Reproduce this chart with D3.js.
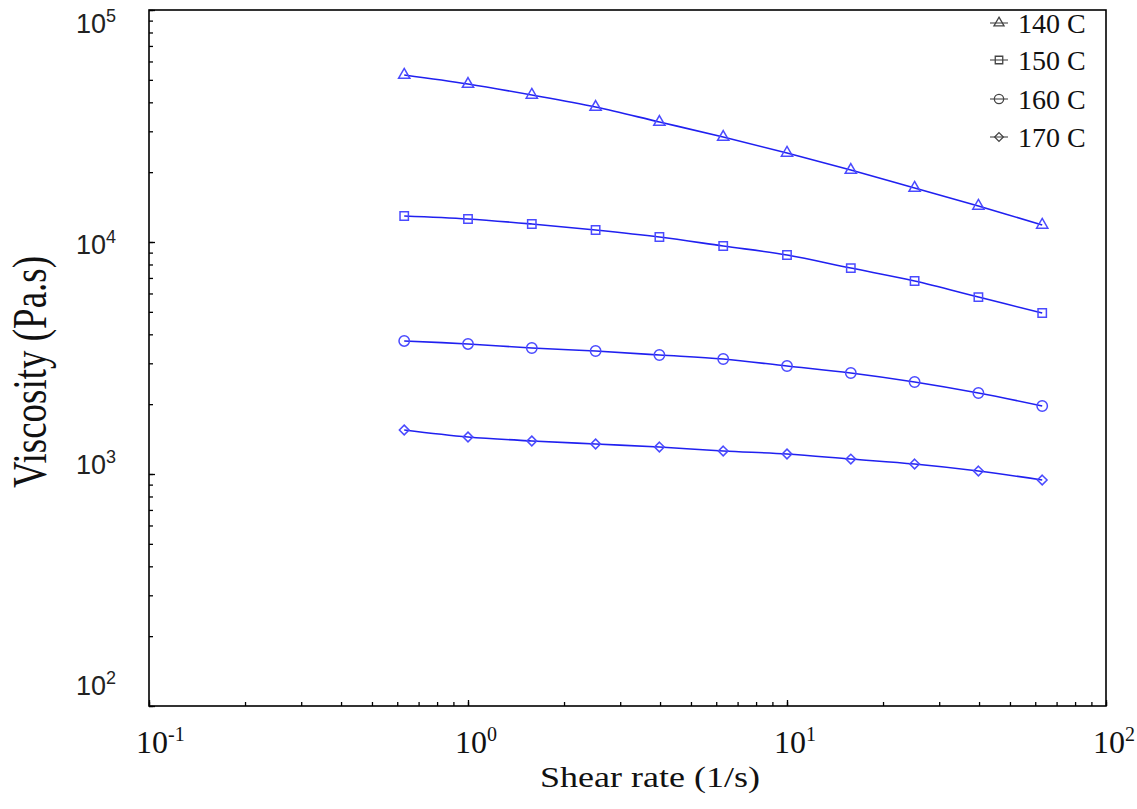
<!DOCTYPE html>
<html>
<head>
<meta charset="utf-8">
<script src="https://cdn.jsdelivr.net/npm/d3@7"></script>
<style>
  body { margin: 0; background: #fff; }
  svg { display: block; }
</style>
</head>
<body>
<div id="chart"></div>
<script>
// shear rates (1/s), shared by every series
const shearRate = [0.631, 1, 1.585, 2.512, 3.981, 6.31, 10, 15.85, 25.12, 39.81, 63.1];

// viscosity (Pa.s) per temperature
const visc140 = [52460, 47970, 43020, 38180, 32900, 28350, 24190, 20430, 17090, 14300, 11840];
const visc150 = [12950, 12570, 11960, 11270, 10510, 9610, 8790, 7720, 6790, 5790, 4940];
const visc160 = [3745, 3635, 3492, 3390, 3258, 3131, 2921, 2725, 2492, 2234, 1964];
const visc170 = [1548, 1444, 1388, 1347, 1307, 1256, 1220, 1160, 1104, 1030, 942];

const seriesNames = ['140 C', '150 C', '160 C', '170 C'];
const seriesSymbols = [d3.symbolTriangle, d3.symbolSquare, d3.symbolCircle, d3.symbolDiamond2 || d3.symbolDiamond];

const xTickExps = [-1, 0, 1, 2];
const yTickExps = [2, 3, 4, 5];

const series = [visc140, visc150, visc160, visc170].map((vals, i) => ({
  name: seriesNames[i],
  symbol: seriesSymbols[i],
  points: vals.map((v, j) => ({ x: shearRate[j], y: v }))
}));

const W = 1137, H = 809;
const margin = { top: 10, right: 31, bottom: 103, left: 149 };
const width = W - margin.left - margin.right;
const height = H - margin.top - margin.bottom;

const lineColor = '#2020f0';
const markColor = '#4a4aff';

const svg = d3.select('#chart').append('svg')
  .attr('width', W).attr('height', H);

const g = svg.append('g')
  .attr('transform', `translate(${margin.left},${margin.top})`);

const x = d3.scaleLog().domain([0.1, 100]).range([0, width]);
const y = d3.scaleLog().domain([100, 100000]).range([height, 0]);
// the tick labels on the y side sit a little off their ticks in the original
const yLabel = d3.scaleLog().domain([100, 100000]).range([685 - margin.top, 23 - margin.top]);

// ticks (inward, bottom and left only)
const xAxis = d3.axisBottom(x).tickSizeInner(-4).tickSizeOuter(0).tickFormat('');
const xMajor = d3.axisBottom(x).tickValues(xTickExps.map(e => Math.pow(10, e)))
  .tickSizeInner(-6).tickSizeOuter(0).tickFormat('');
const yAxis = d3.axisLeft(y).tickSizeInner(-4).tickSizeOuter(0).tickFormat('');
const yMajor = d3.axisLeft(y).tickValues(yTickExps.map(e => Math.pow(10, e)))
  .tickSizeInner(-6).tickSizeOuter(0).tickFormat('');

[[xAxis, true], [xMajor, true], [yAxis, false], [yMajor, false]].forEach(([ax, isX]) => {
  const a = g.append('g').call(ax);
  if (isX) a.attr('transform', `translate(0,${height})`);
  a.select('.domain').remove();
  a.selectAll('line').attr('stroke', '#000').attr('stroke-width', 1.3);
});

// frame
g.append('rect')
  .attr('width', width).attr('height', height)
  .attr('fill', 'none').attr('stroke', '#000').attr('stroke-width', 1.6);

// x tick labels (serif)
const xl = g.append('g').selectAll('text').data(xTickExps).join('text')
  .attr('x', d => x(Math.pow(10, d)) - 13)
  .attr('y', height + 47)
  .attr('font-family', '"Liberation Serif", "Times New Roman", serif')
  .attr('font-size', 32)
  .attr('fill', '#111');
xl.append('tspan').text('10');
xl.append('tspan').attr('font-size', 20).attr('dy', -12).text(d => d);

// y tick labels (sans)
const yl = g.append('g').selectAll('text').data(yTickExps).join('text')
  .attr('x', 76 - margin.left)
  .attr('y', d => yLabel(Math.pow(10, d)) + 10)
  .attr('font-family', '"Liberation Sans", Arial, sans-serif')
  .attr('font-size', 27)
  .attr('fill', '#222');
yl.append('tspan').text('10');
yl.append('tspan').attr('font-size', 18).attr('dy', -11).text(d => d);

// axis titles (stretched horizontally like the original)
svg.append('text')
  .attr('transform', `translate(650,787) scale(1.2,1)`)
  .attr('text-anchor', 'middle')
  .attr('font-family', '"Liberation Serif", "Times New Roman", serif')
  .attr('font-size', 30)
  .attr('fill', '#111')
  .text('Shear rate (1/s)');

svg.append('text')
  .attr('transform', `translate(46,372) scale(1.3,1) rotate(-90)`)
  .attr('text-anchor', 'middle')
  .attr('font-family', '"Liberation Serif", "Times New Roman", serif')
  .attr('font-size', 37)
  .attr('fill', '#111')
  .text('Viscosity (Pa.s)');

// lines
const line = d3.line()
  .x(d => x(d.x))
  .y(d => y(d.y))
  .curve(d3.curveCatmullRom.alpha(0.5));

const sg = g.append('g').selectAll('g').data(series).join('g');

sg.append('path')
  .attr('d', d => line(d.points))
  .attr('fill', 'none')
  .attr('stroke', lineColor)
  .attr('stroke-width', 1.6);

const symSize = [55, 70, 85, 60];

sg.each(function (s, i) {
  d3.select(this).selectAll('path.m').data(s.points).join('path')
    .attr('class', 'm')
    .attr('transform', d => `translate(${x(d.x)},${y(d.y)})`)
    .attr('d', d3.symbol().type(s.symbol).size(symSize[i]))
    .attr('fill', 'none')
    .attr('stroke', markColor)
    .attr('stroke-width', 1.5);
});

// legend
const legY = [23, 60, 99, 137];
const leg = svg.append('g').selectAll('g').data(series).join('g')
  .attr('transform', (d, i) => `translate(999,${legY[i]})`);

leg.append('line')
  .attr('x1', -9).attr('x2', 9)
  .attr('stroke', '#555').attr('stroke-width', 1.2);

leg.append('path')
  .attr('d', (d, i) => d3.symbol().type(d.symbol).size(symSize[i] * 0.8)())
  .attr('fill', 'none')
  .attr('stroke', '#444')
  .attr('stroke-width', 1.3);

leg.append('text')
  .attr('x', 19)
  .attr('y', 10)
  .attr('font-family', '"Liberation Serif", "Times New Roman", serif')
  .attr('font-size', 28)
  .attr('fill', '#111')
  .text(d => d.name);
</script>
</body>
</html>
